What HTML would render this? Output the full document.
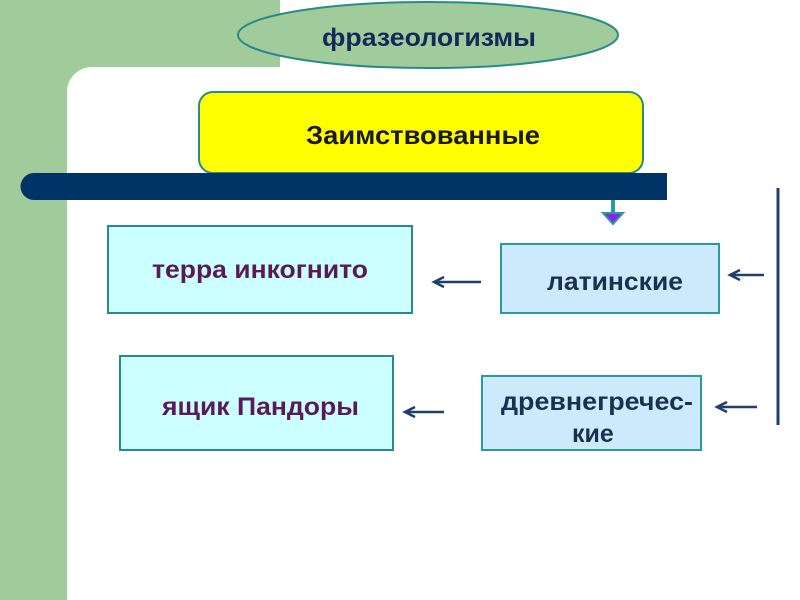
<!DOCTYPE html>
<html><head><meta charset="utf-8"><style>
html,body{margin:0;padding:0;background:#fff;}
svg{display:block;}
text{font-family:"Liberation Sans","DejaVu Sans",sans-serif;font-weight:bold;}
</style></head><body>
<svg width="800" height="600" viewBox="0 0 800 600" xmlns="http://www.w3.org/2000/svg">
<rect x="0" y="0" width="800" height="600" fill="#fff"/>
<rect x="0" y="0" width="280" height="67" fill="#9fcc9a"/>
<rect x="0" y="0" width="67" height="600" fill="#9fcc9a"/>
<path d="M67,92 A25,25 0 0 1 92,67 L67,67 Z" fill="#9fcc9a"/>
<ellipse cx="428" cy="35" rx="190" ry="33" fill="#9fcc9a" stroke="#2a8a8a" stroke-width="2"/>
<text x="322" y="46" font-size="25" fill="#14285a" textLength="214" lengthAdjust="spacingAndGlyphs">фразеологизмы</text>
<rect x="199" y="92" width="444" height="81" rx="14" fill="#ffff00" stroke="#2a8a8a" stroke-width="2"/>
<text x="306" y="144" font-size="26" fill="#1a1a2a" textLength="234" lengthAdjust="spacingAndGlyphs">Заимствованные</text>
<path d="M34,173 L667,173 L667,200 L34,200 A13.5,13.5 0 0 1 34,173 Z" fill="#003366"/>
<line x1="613" y1="200" x2="613" y2="214" stroke="#2a9a9a" stroke-width="4"/>
<path d="M603,213 L623,213 L613,224 Z" fill="#8822ee" stroke="#2a9a9a" stroke-width="2"/>
<line x1="778" y1="188" x2="778" y2="425" stroke="#1f3f6f" stroke-width="3"/>
<rect x="108" y="226" width="304" height="87" fill="#ccffff" stroke="#2a8a8a" stroke-width="2"/>
<text x="152" y="278" font-size="25" fill="#5a1a5a" textLength="216" lengthAdjust="spacingAndGlyphs">терра инкогнито</text>
<rect x="120" y="356" width="273" height="94" fill="#ccffff" stroke="#2a8a8a" stroke-width="2"/>
<text x="162" y="415" font-size="25" fill="#5a1a5a" textLength="197" lengthAdjust="spacingAndGlyphs">ящик Пандоры</text>
<rect x="501" y="244" width="218" height="69" fill="#cceafc" stroke="#2a9a9a" stroke-width="2"/>
<text x="547" y="290" font-size="25" fill="#1a3050" textLength="136" lengthAdjust="spacingAndGlyphs">латинские</text>
<rect x="482" y="376" width="219" height="74" fill="#cceafc" stroke="#2a9a9a" stroke-width="2"/>
<text x="501" y="410" font-size="25" fill="#1a3050" textLength="192" lengthAdjust="spacingAndGlyphs">древнегречес-</text>
<text x="572" y="442" font-size="25" fill="#1a3050">кие</text>
<g stroke="#1f3f6f" stroke-width="2.5" fill="none">
<line x1="481" y1="282" x2="434" y2="282"/><path d="M444,277 L434,282 L444,287"/>
<line x1="444" y1="412" x2="405" y2="412"/><path d="M415,407 L405,412 L415,417"/>
<line x1="764" y1="275" x2="730" y2="275"/><path d="M740,270 L730,275 L740,280"/>
<line x1="757" y1="407" x2="717" y2="407"/><path d="M727,402 L717,407 L727,412"/>
</g>
</svg>
</body></html>
